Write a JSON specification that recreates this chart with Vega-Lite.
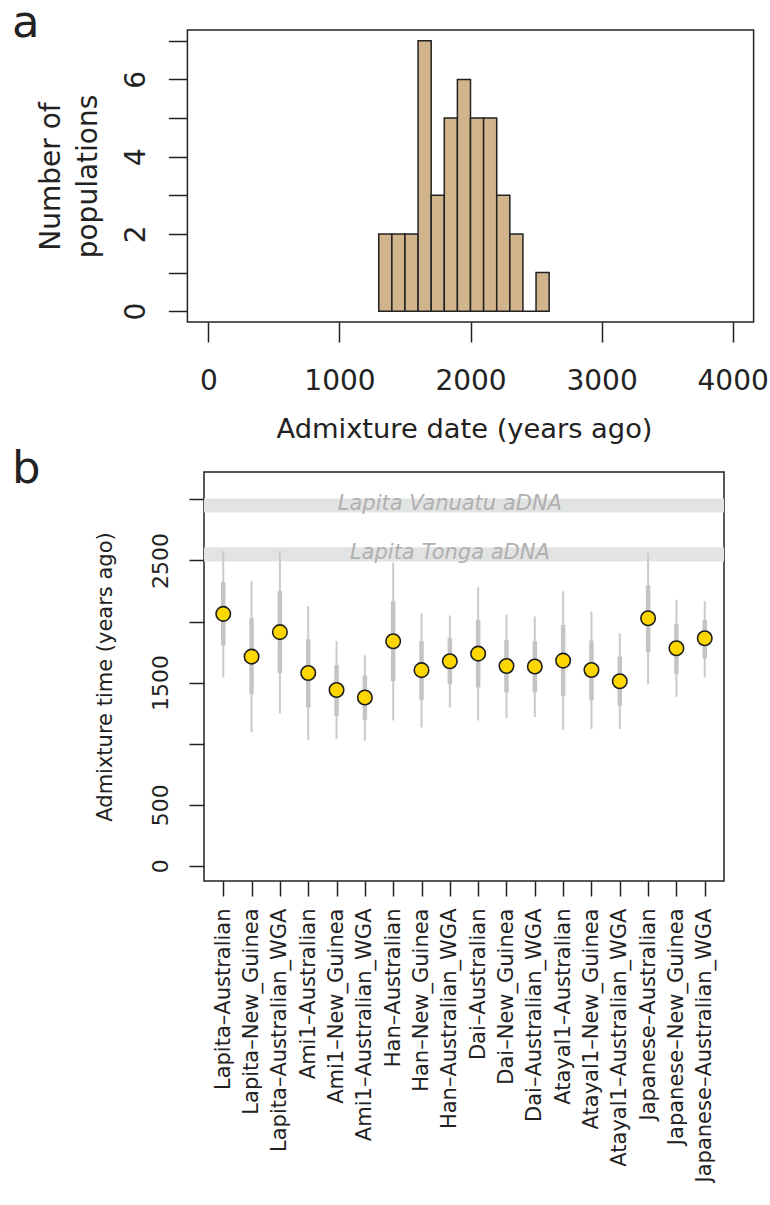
{
  "$schema": "https://vega.github.io/schema/vega-lite/v6.json",
  "background": "white",
  "padding": {"left": 11, "top": 1, "right": 0, "bottom": 0},
  "spacing": 3,
  "datasets": {
    "hist": [
      {"start": 1300, "end": 1400, "count": 2},
      {"start": 1400, "end": 1500, "count": 2},
      {"start": 1500, "end": 1600, "count": 2},
      {"start": 1600, "end": 1700, "count": 7},
      {"start": 1700, "end": 1800, "count": 3},
      {"start": 1800, "end": 1900, "count": 5},
      {"start": 1900, "end": 2000, "count": 6},
      {"start": 2000, "end": 2100, "count": 5},
      {"start": 2100, "end": 2200, "count": 5},
      {"start": 2200, "end": 2300, "count": 3},
      {"start": 2300, "end": 2400, "count": 2},
      {"start": 2400, "end": 2500, "count": 0},
      {"start": 2500, "end": 2600, "count": 1}
    ],
    "bands": [
      {"name": "Lapita Vanuatu aDNA", "lo": 2893, "hi": 3008, "mid": 2958},
      {"name": "Lapita Tonga aDNA", "lo": 2492, "hi": 2607, "mid": 2558}
    ],
    "pts": [
      {"pop": "Lapita–Australian", "est": 2063, "lo95": 1543, "hi95": 2576, "lo50": 1803, "hi50": 2322},
      {"pop": "Lapita–New_Guinea", "est": 1713, "lo95": 1092, "hi95": 2330, "lo50": 1407, "hi50": 2027},
      {"pop": "Lapita–Australian_WGA", "est": 1913, "lo95": 1249, "hi95": 2576, "lo50": 1579, "hi50": 2248},
      {"pop": "Ami1–Australian", "est": 1579, "lo95": 1029, "hi95": 2126, "lo50": 1297, "hi50": 1855},
      {"pop": "Ami1–New_Guinea", "est": 1440, "lo95": 1037, "hi95": 1839, "lo50": 1229, "hi50": 1645},
      {"pop": "Ami1–Australian_WGA", "est": 1378, "lo95": 1024, "hi95": 1724, "lo50": 1196, "hi50": 1557},
      {"pop": "Han–Australian", "est": 1839, "lo95": 1190, "hi95": 2481, "lo50": 1513, "hi50": 2166},
      {"pop": "Han–New_Guinea", "est": 1602, "lo95": 1133, "hi95": 2068, "lo50": 1360, "hi50": 1839},
      {"pop": "Han–Australian_WGA", "est": 1675, "lo95": 1297, "hi95": 2049, "lo50": 1486, "hi50": 1866},
      {"pop": "Dai–Australian", "est": 1737, "lo95": 1190, "hi95": 2281, "lo50": 1461, "hi50": 2013},
      {"pop": "Dai–New_Guinea", "est": 1636, "lo95": 1208, "hi95": 2057, "lo50": 1420, "hi50": 1850},
      {"pop": "Dai–Australian_WGA", "est": 1632, "lo95": 1218, "hi95": 2041, "lo50": 1420, "hi50": 1839},
      {"pop": "Atayal1–Australian", "est": 1680, "lo95": 1111, "hi95": 2248, "lo50": 1390, "hi50": 1972},
      {"pop": "Atayal1–New_Guinea", "est": 1603, "lo95": 1119, "hi95": 2082, "lo50": 1355, "hi50": 1844},
      {"pop": "Atayal1–Australian_WGA", "est": 1511, "lo95": 1119, "hi95": 1904, "lo50": 1310, "hi50": 1713},
      {"pop": "Japanese–Australian", "est": 2027, "lo95": 1488, "hi95": 2560, "lo50": 1749, "hi50": 2295},
      {"pop": "Japanese–New_Guinea", "est": 1781, "lo95": 1384, "hi95": 2178, "lo50": 1570, "hi50": 1981},
      {"pop": "Japanese–Australian_WGA", "est": 1863, "lo95": 1543, "hi95": 2166, "lo50": 1699, "hi50": 2013}
    ]
  },
  "vconcat": [
    {
      "width": 549.6,
      "height": 292,
      "view": {"stroke": null},
      "title": {"text": "a", "anchor": "start", "frame": "group", "dx": -192, "dy": 9, "offset": -44, "baseline": "alphabetic", "fontSize": 45, "font": "DejaVu Sans", "fontWeight": "normal", "color": "#222222"},
      "layer": [
        {
          "data": {"name": "hist"},
          "mark": {"type": "rect", "fill": "#D2B48C", "stroke": "#222222", "strokeWidth": 1.5},
          "encoding": {
            "x": {
              "field": "start", "type": "quantitative",
              "scale": {"domain": [-33.4, 4160], "nice": false, "zero": false},
              "axis": {"values": [0, 1000, 2000, 3000, 4000], "format": "d", "tickSize": 20, "labelPadding": 25, "labelFontSize": 28, "titleFontSize": 27.3, "titlePadding": 20, "titleX": 260, "labelFlush": false, "labelOverlap": false},
              "title": "Admixture date (years ago)"
            },
            "x2": {"field": "end"},
            "y": {
              "field": "count", "type": "quantitative",
              "scale": {"domain": [-0.28, 7.28], "nice": false, "zero": false},
              "axis": {"values": [0, 1, 2, 3, 4, 5, 6, 7], "format": "d", "offset": 16.6, "labelExpr": "datum.value % 2 == 0 ? datum.label : ''", "tickSize": 19, "labelAngle": 270, "labelAlign": "center", "labelBaseline": "bottom", "labelPadding": 18, "labelFontSize": 28, "titleFontSize": 28, "titleLineHeight": 37, "titlePadding": 20, "labelFlush": false, "labelOverlap": false},
              "title": ["Number of", "populations"]
            },
            "y2": {"datum": 0}
          }
        },
        {
          "data": {"values": [{}]},
          "mark": {"type": "rect", "fill": null, "stroke": "#222222", "strokeWidth": 1.5, "clip": false},
          "encoding": {
            "x": {"datum": -160, "type": "quantitative", "title": "Admixture date (years ago)"},
            "x2": {"datum": 4160},
            "y": {"datum": -0.28, "type": "quantitative", "title": ["Number of", "populations"]},
            "y2": {"datum": 7.28}
          }
        }
      ]
    },
    {
      "width": 520,
      "height": 409,
      "title": {"text": "b", "anchor": "start", "frame": "group", "dx": -192, "dy": 12, "offset": -44, "baseline": "alphabetic", "fontSize": 45, "font": "DejaVu Sans", "fontWeight": "normal", "color": "#222222"},
      "layer": [
        {
          "data": {"name": "bands"},
          "mark": {"type": "rect", "fill": "#e2e3e3"},
          "encoding": {
            "y": {
              "field": "lo", "type": "quantitative",
              "scale": {"domain": [-124, 3224], "nice": false, "zero": false},
              "axis": {"values": [0, 500, 1000, 1500, 2000, 2500, 3000], "format": "d", "labelExpr": "datum.value == 0 || datum.value == 500 || datum.value == 1500 || datum.value == 2500 ? datum.label : ''", "tickSize": 15, "labelAngle": 270, "labelAlign": "center", "labelBaseline": "bottom", "labelPadding": 17, "labelFontSize": 22, "titleFontSize": 21, "titlePadding": 34, "labelFlush": false, "labelOverlap": false},
              "title": "Admixture time (years ago)"
            },
            "y2": {"field": "hi"}
          }
        },
        {
          "data": {"name": "bands"},
          "mark": {"type": "text", "fontSize": 21, "fontStyle": "italic", "font": "DejaVu Sans", "color": "#b0b0b0", "align": "center", "baseline": "middle"},
          "encoding": {
            "x": {"datum": "Han–Australian_WGA", "type": "nominal"},
            "y": {"field": "mid", "type": "quantitative", "title": "Admixture time (years ago)"},
            "text": {"field": "name"}
          }
        },
        {
          "data": {"name": "pts"},
          "mark": {"type": "rule", "color": "#cacacc", "strokeWidth": 2},
          "encoding": {
            "x": {
              "field": "pop", "type": "nominal", "sort": null,
              "scale": {"type": "point", "padding": 0.68, "domain": ["Lapita–Australian", "Lapita–New_Guinea", "Lapita–Australian_WGA", "Ami1–Australian", "Ami1–New_Guinea", "Ami1–Australian_WGA", "Han–Australian", "Han–New_Guinea", "Han–Australian_WGA", "Dai–Australian", "Dai–New_Guinea", "Dai–Australian_WGA", "Atayal1–Australian", "Atayal1–New_Guinea", "Atayal1–Australian_WGA", "Japanese–Australian", "Japanese–New_Guinea", "Japanese–Australian_WGA"]},
              "axis": {"labelAngle": 270, "labelFontSize": 21, "tickSize": 15, "labelPadding": 12, "labelLimit": 0, "labelOverlap": false},
              "title": null
            },
            "y": {"field": "lo95", "type": "quantitative", "title": "Admixture time (years ago)"},
            "y2": {"field": "hi95"}
          }
        },
        {
          "data": {"name": "pts"},
          "mark": {"type": "rule", "color": "#c4c4c6", "strokeWidth": 4.5},
          "encoding": {
            "x": {"field": "pop", "type": "nominal", "sort": null, "title": null},
            "y": {"field": "lo50", "type": "quantitative", "title": "Admixture time (years ago)"},
            "y2": {"field": "hi50"}
          }
        },
        {
          "data": {"name": "pts"},
          "mark": {"type": "point", "filled": true, "fill": "#FFD700", "stroke": "#1e1e1e", "strokeWidth": 1.6, "size": 210, "opacity": 1},
          "encoding": {
            "x": {"field": "pop", "type": "nominal", "sort": null, "title": null},
            "y": {"field": "est", "type": "quantitative", "title": "Admixture time (years ago)"}
          }
        }
      ]
    }
  ],
  "config": {
    "font": "DejaVu Sans",
    "view": {"stroke": "#222222", "strokeWidth": 1.5},
    "axis": {"labelFont": "DejaVu Sans", "titleFont": "DejaVu Sans", "labelColor": "#222222", "titleColor": "#222222", "tickColor": "#222222", "tickWidth": 1.5, "grid": false, "domain": false, "titleFontWeight": "normal"}
  }
}
